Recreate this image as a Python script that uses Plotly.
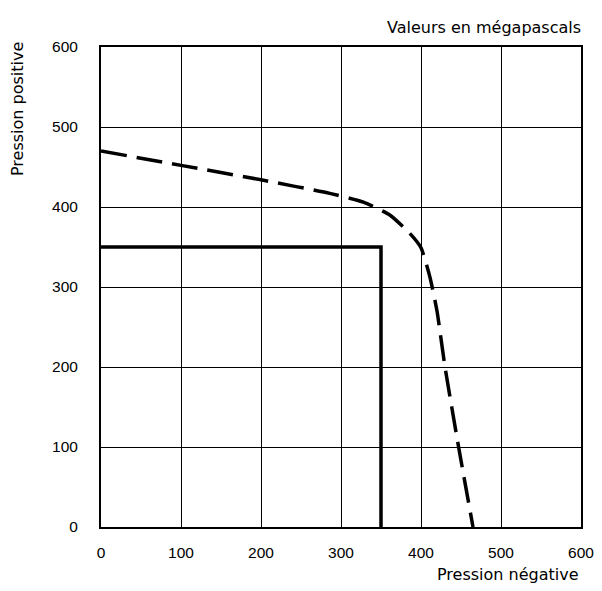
import plotly.graph_objects as go

# Data
limit_x = [0, 350, 350]
limit_y = [350, 350, 0]

curve_x = [0, 100, 200, 286, 328, 361, 386, 400, 411, 420, 430, 447, 465]
curve_y = [470, 452, 434, 417, 406, 390, 367, 349, 313, 270, 200, 100, 0]

ticks = [0, 100, 200, 300, 400, 500, 600]
tick_labels = ["0", "100", "200", "300", "400", "500", "600"]

font_family = "DejaVu Sans"
tick_family = "Liberation Sans"

fig = go.Figure()
fig.add_trace(go.Scatter(x=limit_x, y=limit_y, mode="lines",
                         line=dict(color="black", width=3.5), showlegend=False))
fig.add_trace(go.Scatter(x=curve_x, y=curve_y, mode="lines",
                         line=dict(color="black", width=3.5, dash="26px,10px", shape="spline", smoothing=0.5),
                         showlegend=False))

axis_common = dict(range=[0, 600], tickvals=ticks, ticktext=tick_labels,
                   showgrid=True, gridcolor="black", gridwidth=1,
                   showline=True, linecolor="black", linewidth=2, mirror=True,
                   zeroline=False, ticks="", automargin=False, ticklabeloverflow="allow",
                   tickfont=dict(family=tick_family, size=15.5, color="black"))

fig.update_xaxes(**axis_common, ticklabelstandoff=10)
fig.update_yaxes(**axis_common, ticklabelstandoff=18)

fig.update_layout(
    width=586, height=575,
    margin=dict(l=93, r=13, t=39, b=56),
    paper_bgcolor="white", plot_bgcolor="white",
    font=dict(family=font_family, color="black"),
    annotations=[
        dict(text="Valeurs en mégapascals", xref="paper", yref="paper", x=1.004, y=1.0,
             xanchor="right", yanchor="middle", yshift=20, showarrow=False,
             font=dict(size=16, family=font_family, color="black")),
        dict(text="Pression négative", xref="paper", yref="paper", x=1.0, y=0,
             xanchor="right", yanchor="middle", yshift=-47, showarrow=False,
             font=dict(size=16, family=font_family, color="black")),
        dict(text="Pression positive", xref="paper", yref="paper", x=0, y=1.0,
             xanchor="center", yanchor="top", xshift=-84, yshift=7, textangle=-90, showarrow=False,
             font=dict(size=16, family=font_family, color="black")),
    ],
)

fig.write_html("out.html")
